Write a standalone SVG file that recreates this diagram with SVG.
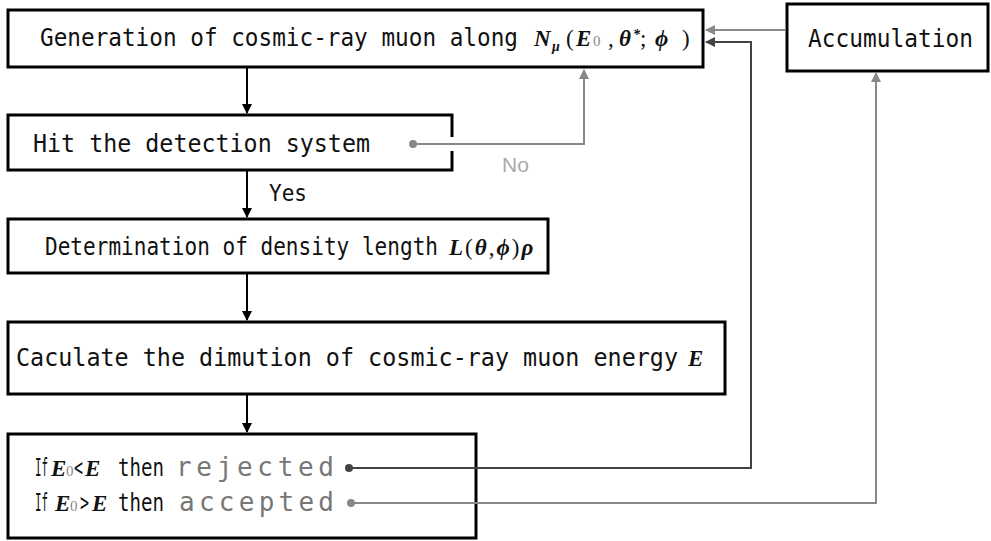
<svg xmlns="http://www.w3.org/2000/svg" width="991" height="541" viewBox="0 0 991 541">
<style>
.box{fill:#fff;stroke:#000;stroke-width:3}
.t{font-family:"DejaVu Sans Mono","Liberation Mono",monospace;font-size:25px;fill:#111}
.m{font-family:"Liberation Serif","DejaVu Serif",serif;font-style:italic;font-weight:bold;font-size:23px;fill:#111}
.up{font-style:normal;font-weight:normal}
.sm{font-size:14px}
.sub{font-family:"Liberation Serif",serif;font-size:15px;fill:#888;font-style:normal;font-weight:normal}
.g{fill:#777;font-size:26px}
.flow{stroke:#000;stroke-width:2;fill:none}
.gray{stroke:#888;stroke-width:2;fill:none}
.dark{stroke:#444;stroke-width:2;fill:none}
</style>
<defs>
<marker id="ab" markerWidth="10" markerHeight="10" refX="9" refY="5" orient="auto" markerUnits="userSpaceOnUse"><path d="M0,0 L10,5 L0,10 z" fill="#000"/></marker>
<marker id="ag" markerWidth="10" markerHeight="10" refX="9" refY="5" orient="auto" markerUnits="userSpaceOnUse"><path d="M0,0 L10,5 L0,10 z" fill="#888"/></marker>
<marker id="ad" markerWidth="10" markerHeight="10" refX="9" refY="5" orient="auto" markerUnits="userSpaceOnUse"><path d="M0,0 L10,5 L0,10 z" fill="#444"/></marker>
</defs>

<g id="n1">
<rect class="box" x="8" y="10" width="695" height="57"/>
<text class="t" x="40" y="46" textLength="478" lengthAdjust="spacingAndGlyphs">Generation of cosmic-ray muon along</text>
<text class="m" y="46"><tspan x="534">N</tspan><tspan class="sm" x="552" y="51">μ</tspan><tspan class="up" x="566" y="46">(</tspan><tspan x="576">E</tspan><tspan class="sub" x="593">0</tspan><tspan class="up" x="608">,</tspan><tspan x="619">θ</tspan><tspan class="sm" x="633" y="39">*</tspan><tspan class="up" x="640" y="46">;</tspan><tspan x="655">ϕ</tspan><tspan class="up" x="682">)</tspan></text>
</g>

<g id="n2">
<rect x="8" y="115" width="444" height="55" fill="#fff"/>
<path d="M452,137 V115 H8 V170 H452 V151" fill="none" stroke="#000" stroke-width="3"/>
<text class="t" x="33" y="152" textLength="337" lengthAdjust="spacingAndGlyphs">Hit the detection system</text>
</g>

<g id="n3">
<rect class="box" x="8" y="219" width="540" height="54"/>
<text class="t" x="45" y="255" textLength="393" lengthAdjust="spacingAndGlyphs">Determination of density length</text>
<text class="m" x="449" y="255" letter-spacing="2">L<tspan class="up">(</tspan>θ<tspan class="up">,</tspan>ϕ<tspan class="up">)</tspan>ρ</text>
</g>

<g id="n4">
<rect class="box" x="8" y="322" width="717" height="72"/>
<text class="t" x="16" y="366" textLength="662" lengthAdjust="spacingAndGlyphs">Caculate the dimution of cosmic-ray muon energy</text>
<text class="m" x="688" y="366">E</text>
</g>

<g id="n5">
<rect class="box" x="8" y="434" width="468" height="104"/>
<text class="t" x="35" y="476" textLength="13" lengthAdjust="spacingAndGlyphs">If</text>
<text class="m" y="476"><tspan x="51">E</tspan><tspan class="sub" x="66">0</tspan></text>
<text class="t" x="74" y="476" textLength="9" lengthAdjust="spacingAndGlyphs">&lt;</text>
<text class="m" x="85" y="476">E</text>
<text class="t" x="118" y="476" textLength="46" lengthAdjust="spacingAndGlyphs">then</text>
<text class="t g" x="176" y="476" textLength="158" lengthAdjust="spacing">rejected</text>
<text class="t" x="35" y="511" textLength="13" lengthAdjust="spacingAndGlyphs">If</text>
<text class="m" y="511"><tspan x="55">E</tspan><tspan class="sub" x="70">0</tspan></text>
<text class="t" x="80" y="511" textLength="9" lengthAdjust="spacingAndGlyphs">&gt;</text>
<text class="m" x="92" y="511">E</text>
<text class="t" x="118" y="511" textLength="46" lengthAdjust="spacingAndGlyphs">then</text>
<text class="t g" x="179" y="511" textLength="155" lengthAdjust="spacing">accepted</text>
</g>

<g id="n6">
<rect class="box" x="787" y="4" width="201" height="67"/>
<text class="t" x="808" y="47" textLength="165" lengthAdjust="spacingAndGlyphs">Accumulation</text>
</g>

<g id="connectors">
<line class="flow" x1="247" y1="68" x2="247" y2="113" marker-end="url(#ab)"/>
<line class="flow" x1="247" y1="171" x2="247" y2="217" marker-end="url(#ab)"/>
<line class="flow" x1="247" y1="274" x2="247" y2="320" marker-end="url(#ab)"/>
<line class="flow" x1="247" y1="395" x2="247" y2="432" marker-end="url(#ab)"/>
<circle cx="413" cy="144" r="4" fill="#888"/>
<polyline class="gray" points="413,144 584,144 584,70" marker-end="url(#ag)"/>
<line class="gray" x1="786" y1="30" x2="706" y2="30" marker-end="url(#ag)"/>
<circle cx="349" cy="468" r="4" fill="#444"/>
<polyline class="dark" points="349,468 751,468 751,42 706,42" marker-end="url(#ad)"/>
<circle cx="351" cy="503" r="4" fill="#888"/>
<polyline class="gray" points="351,503 876,503 876,73" marker-end="url(#ag)"/>
<text x="502" y="172" font-family="Liberation Sans, sans-serif" font-size="21" fill="#aaa">No</text>
<text x="269" y="201" font-family="DejaVu Sans Mono, monospace" font-size="23" fill="#111" textLength="38" lengthAdjust="spacingAndGlyphs">Yes</text>
</g>
</svg>
